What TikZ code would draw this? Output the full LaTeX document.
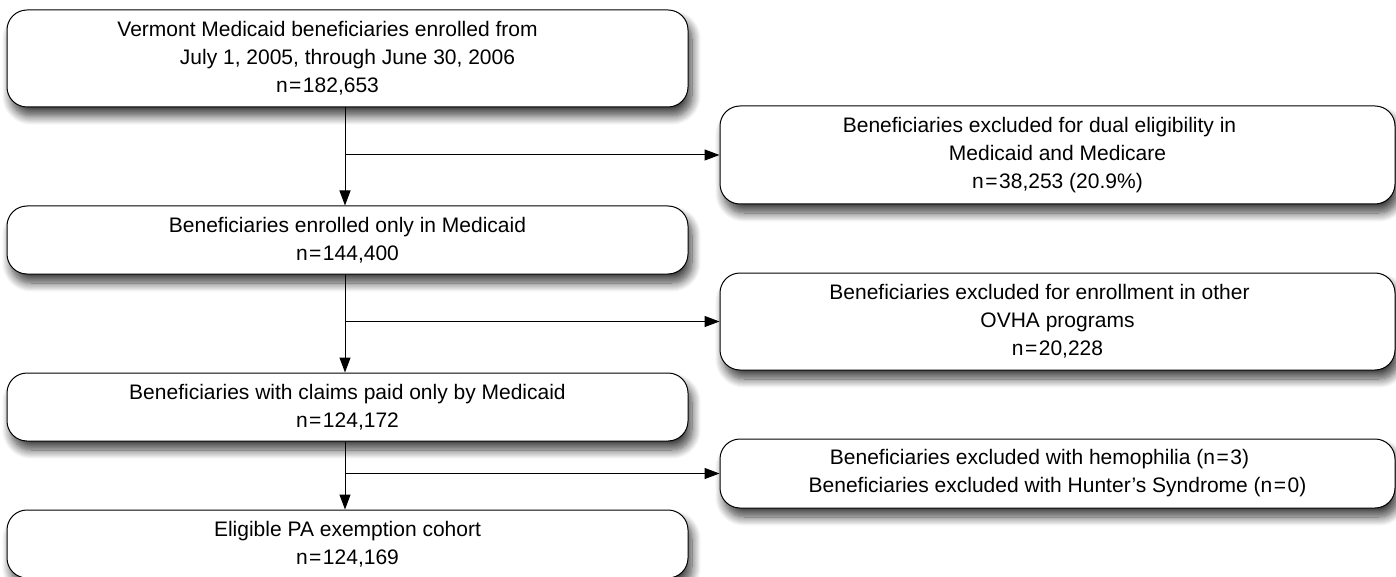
\documentclass[tikz,border=0pt]{standalone}
\usepackage{fontspec}
\setmainfont{Liberation Sans}
\usepackage{tikz}
\usetikzlibrary{positioning}
\usetikzlibrary{arrows.meta}
\usetikzlibrary{shadows.blur}

\newcommand{\eqn}{\kern1.5pt=\kern1.5pt}

\begin{document}
\begin{tikzpicture}[x=1pt, y=-1pt,
	box/.style={draw, line width=1pt, fill=white, rounded corners=20pt, align=center, inner sep=0pt,
		font=\fontsize{21}{28}\selectfont,
		blur shadow={shadow xshift=4pt, shadow yshift=-9pt, shadow blur radius=9pt, shadow blur steps=12, shadow opacity=75}},
	flow/.style={line width=1pt, -{Triangle[length=15pt, width=11pt]}}]

	\useasboundingbox (0,0) rectangle (1396,577);
	% Cohort %
	\node [box, minimum width=681pt, minimum height=97pt] (vermont) at (347.5,58.5) {Vermont Medicaid beneficiaries enrolled from\hspace*{40pt}\\July 1, 2005, through June 30, 2006\\n\eqn182,653\hspace*{40pt}};
	\node [box, minimum width=681pt, minimum height=68pt] (enrolled) at (347.5,240) {Beneficiaries enrolled only in Medicaid\\n\eqn144,400};
	\node [box, minimum width=681pt, minimum height=68pt] (claims) at (347.5,407) {Beneficiaries with claims paid only by Medicaid\\n\eqn124,172};
	\node [box, minimum width=681pt, minimum height=68pt] (cohort) at (347.5,544) {Eligible PA exemption cohort\\n\eqn124,169};
	% Exclusions %
	\node [box, minimum width=675pt, minimum height=98pt] (dual) at (1057.5,155) {Beneficiaries excluded for dual eligibility in\hspace*{36pt}\\Medicaid and Medicare\\n\eqn38,253 (20.9\%)};
	\node [box, minimum width=675pt, minimum height=97pt] (ovha) at (1057.5,321.5) {Beneficiaries excluded for enrollment in other\hspace*{36pt}\\OVHA programs\\n\eqn20,228};
	\node [box, minimum width=675pt, minimum height=69pt] (hemo) at (1057.5,473.5) {Beneficiaries excluded with hemophilia (n\eqn3)\hspace*{36pt}\\Beneficiaries excluded with Hunter’s Syndrome (n\eqn0)};
	% Arrows %
	\draw [flow] ([xshift=-2.5pt]vermont.south) -- ([xshift=-2.5pt]enrolled.north);
	\draw [flow] ([xshift=-2.5pt]enrolled.south) -- ([xshift=-2.5pt]claims.north);
	\draw [flow] ([xshift=-2.5pt]claims.south) -- ([xshift=-2.5pt]cohort.north);
	\coordinate (split1) at ([xshift=-2.5pt]vermont.south |- dual.west);
	\coordinate (split2) at ([xshift=-2.5pt]enrolled.south |- ovha.west);
	\coordinate (split3) at ([xshift=-2.5pt]claims.south |- hemo.west);
	\draw [flow] (split1) -- (dual.west);
	\draw [flow] (split2) -- (ovha.west);
	\draw [flow] (split3) -- (hemo.west);
\end{tikzpicture}
\end{document}
